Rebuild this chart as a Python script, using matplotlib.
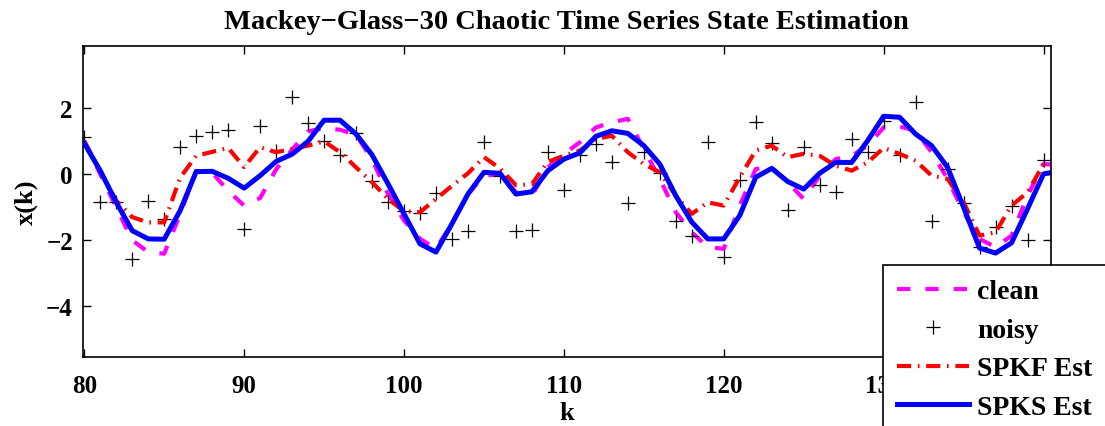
import numpy as np
import matplotlib
matplotlib.use("Agg")
import matplotlib.pyplot as plt

plt.rcParams["font.family"] = ["Liberation Serif", "DejaVu Serif"]
plt.rcParams["font.weight"] = "bold"

# time index
k = np.arange(80, 142)

clean = [1.02, 0.0, -1.0, -2.0, -2.36, -2.41, -1.2, 0.1, 0.05, -0.5,
         -0.95, -0.72, 0.15, 0.75, 1.3, 1.4, 1.35, 1.2, 0.45, -0.6,
         -1.4, -1.96, -2.25, -1.5, -0.6, -0.04, 0.0, -0.55, -0.65, 0.21,
         0.62, 0.97, 1.42, 1.58, 1.68, 0.77, -0.14, -1.15, -1.76, -2.21,
         -2.26, -0.95, 0.16, 0.21, -0.24, -0.75, -0.04, 0.46, 0.56, 0.87,
         1.42, 1.45, 1.32, 0.67, -0.14, -1.15, -1.96, -2.21, -1.86, -0.65,
         0.31, 0.28]

noisy = [1.12, -0.83, -0.85, -2.57, -0.82, -1.35, 0.84, 1.17, 1.27, 1.34,
         -1.66, 1.45, 0.72, 2.35, 1.57, 1.02, 0.6, 1.24, -0.19, -0.85,
         -1.1, -1.18, -0.58, -1.96, -1.73, 0.99, -0.04, -1.71, -1.69, 0.67,
         -0.48, 0.58, 0.92, 0.36, -0.88, 0.68, 0.03, -1.42, -1.88, 0.99,
         -2.52, -0.16, 1.59, 0.94, -1.08, 0.84, -0.34, -0.54, 1.07, 0.67,
         1.62, 0.59, 2.18, -1.42, 0.16, -0.87, -2.2, -1.6, -0.95, -1.98,
         0.43]

spkf = [1.0, 0.1, -0.8, -1.3, -1.46, -1.46, -0.1, 0.56, 0.68, 0.8,
        0.22, 0.82, 0.67, 0.77, 0.87, 1.0, 0.67, 0.21, -0.24, -0.75,
        -1.12, -1.15, -0.75, -0.35, 0.03, 0.52, 0.18, -0.33, -0.3, 0.38,
        0.56, 0.72, 1.07, 1.17, 0.67, 0.31, 0.06, -0.65, -1.2, -0.85,
        -0.95, -0.09, 0.72, 0.87, 0.52, 0.62, 0.56, 0.26, 0.11, 0.36,
        0.8, 0.62, 0.41, -0.04, -0.14, -0.85, -1.86, -1.76, -0.95, -0.55,
        0.31, 0.35]

spks = [0.94, 0.11, -0.85, -1.71, -1.96, -1.97, -1.1, 0.08, 0.09, -0.12,
        -0.42, -0.04, 0.39, 0.61, 1.0, 1.64, 1.64, 1.22, 0.59, -0.29,
        -1.2, -2.11, -2.36, -1.5, -0.6, 0.06, 0.03, -0.6, -0.53, 0.11,
        0.46, 0.65, 1.15, 1.32, 1.24, 0.87, 0.31, -0.65, -1.45, -1.96,
        -1.96, -1.25, -0.09, 0.18, -0.22, -0.45, 0.03, 0.36, 0.36, 1.02,
        1.76, 1.73, 1.22, 0.87, 0.21, -1.0, -2.24, -2.39, -2.08, -1.05,
        0.01, 0.1]

xticks = [80, 90, 100, 110, 120, 130, 140]
yticks = [-4, -2, 0, 2]

fig = plt.figure(figsize=(11.05, 4.27), dpi=100)
ax = fig.add_axes([0.0748, 0.161, 0.8762, 0.7296])

ax.plot(k, clean, color="#ff00ff", linestyle="--", dashes=(3.2, 3.6),
        linewidth=3, label="clean")
ax.plot(k[:len(noisy)], noisy, linestyle="none", marker="+", color="black",
        markersize=10, markeredgewidth=0.9, label="noisy")
ax.plot(k, spkf, color="red", linestyle="-.", dashes=(3.4, 1.6, 0.4, 1.6),
        linewidth=3, label="SPKF Est")
ax.plot(k, spks, color="blue", linestyle="-", linewidth=3.6, label="SPKS Est")

ax.set_xlim(79.9, 140.46)
ax.set_ylim(-5.55, 3.9)
ax.set_xticks(xticks)
ax.set_yticks(yticks)
ax.set_yticklabels(["\u22124", "\u22122", "0", "2"])
ax.tick_params(axis="both", direction="in", length=6, width=1, top=True,
               right=True, labelsize=18)
ax.tick_params(axis="x", pad=12)
ax.tick_params(axis="y", pad=7)
for spine in ax.spines.values():
    spine.set_linewidth(1.2)

ax.set_title("Mackey\u2212Glass\u221230 Chaotic Time Series State Estimation",
             fontsize=20.5, fontweight="bold", pad=13)
ax.set_xlabel("k", fontsize=19, fontweight="bold", labelpad=3)
ax.set_ylabel("x(k)", fontsize=19, fontweight="bold", labelpad=6)

leg = fig.legend(loc="upper left", bbox_to_anchor=(882.7 / 1105, 1 - 266 / 427),
                 borderaxespad=0, fontsize=20, numpoints=1, fancybox=False,
                 framealpha=1, edgecolor="black", handlelength=2.6,
                 handletextpad=0.3, labelspacing=0.47, borderpad=0.5)
leg.get_frame().set_linewidth(1.2)

fig.savefig("out.png", dpi=100)
